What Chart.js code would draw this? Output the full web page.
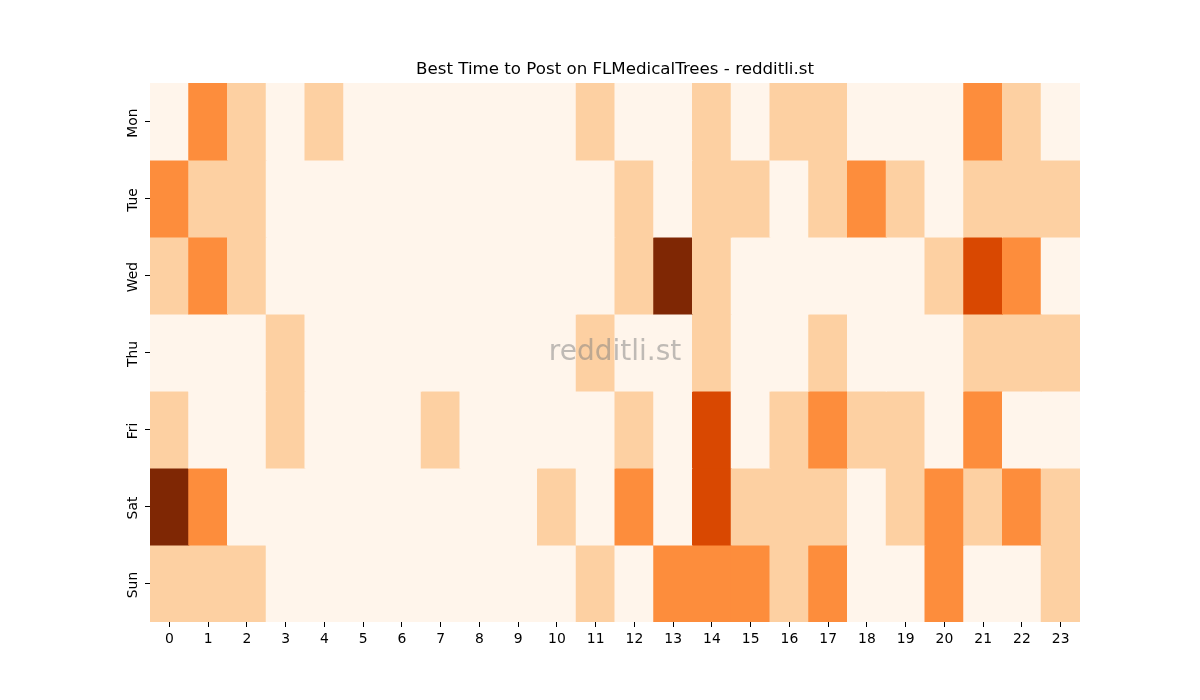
<!DOCTYPE html>
<html>
<head>
<meta charset="utf-8">
<script src="https://cdn.jsdelivr.net/npm/chart.js@4.4.0/dist/chart.umd.min.js"></script>
<style>
  html, body { margin: 0; padding: 0; background: #ffffff; }
  #wrap { width: 1200px; height: 700px; }
</style>
</head>
<body>
<div id="wrap"><canvas id="heat"></canvas></div>
<script>
// DATA
const hours = ["0","1","2","3","4","5","6","7","8","9","10","11","12","13","14","15","16","17","18","19","20","21","22","23"];
const days = ["Mon", "Tue", "Wed", "Thu", "Fri", "Sat", "Sun"];

const mon = [0,2,1,0,1,0,0,0,0,0,0,1,0,0,1,0,1,1,0,0,0,2,1,0];
const tue = [2,1,1,0,0,0,0,0,0,0,0,0,1,0,1,1,0,1,2,1,0,1,1,1];
const wed = [1,2,1,0,0,0,0,0,0,0,0,0,1,4,1,0,0,0,0,0,1,3,2,0];
const thu = [0,0,0,1,0,0,0,0,0,0,0,1,0,0,1,0,0,1,0,0,0,1,1,1];
const fri = [1,0,0,1,0,0,0,1,0,0,0,0,1,0,3,0,1,2,1,1,0,2,0,0];
const sat = [4,2,0,0,0,0,0,0,0,0,1,0,2,0,3,1,1,1,0,1,2,1,2,1];
const sun = [1,1,1,0,0,0,0,0,0,0,0,1,0,2,2,2,1,2,0,0,2,0,0,1];

const rows = [mon, tue, wed, thu, fri, sat, sun];
const maxValue = 4;
const titleText = "Best Time to Post on FLMedicalTrees - redditli.st";

// ORANGES COLOUR MAP
const oranges = ["#fff5eb", "#fdd0a2", "#fd8d3c", "#d94801", "#7f2704"];
function colorFor(v) {
  return oranges[Math.round(v / maxValue * (oranges.length - 1))];
}

const tickFont = { family: "DejaVu Sans", size: 13.9 };

// TITLE, ROTATED DAY LABELS AND WATERMARK
const decorations = {
  id: "decorations",
  afterDatasetsDraw(chart) {
    const a = chart.chartArea;
    const ctx = chart.ctx;
    const cx = (a.left + a.right) / 2;
    ctx.save();

    ctx.font = "28px 'DejaVu Sans'";
    ctx.fillStyle = "rgba(128,128,128,0.5)";
    ctx.textAlign = "center";
    ctx.textBaseline = "middle";
    ctx.fillText("redditli.st", cx, (a.top + a.bottom) / 2);

    ctx.fillStyle = "#000000";
    ctx.font = "16.67px 'DejaVu Sans'";
    ctx.textBaseline = "middle";
    ctx.fillText(titleText, cx, a.top - 13);

    const yScale = chart.scales.y;
    ctx.font = "13.9px 'DejaVu Sans'";
    days.forEach((d, i) => {
      const y = yScale.getPixelForValue(i + 0.5) + 1.5;
      ctx.save();
      ctx.translate(a.left - 17, y);
      ctx.rotate(-Math.PI / 2);
      ctx.fillText(d, 0, 0);
      ctx.restore();
    });
    ctx.restore();
  }
};

// ONE FLOATING-BAR DATASET PER DAY
const datasets = rows.map((vals, d) => ({
  label: days[d],
  data: vals.map(() => [d, d + 1]),
  backgroundColor: vals.map(colorFor),
  borderWidth: 0,
  inflateAmount: 0.5,
  barPercentage: 1,
  categoryPercentage: 1,
  grouped: false
}));

new Chart(document.getElementById("heat"), {
  type: "bar",
  data: { labels: hours, datasets: datasets },
  plugins: [decorations],
  options: {
    responsive: true,
    maintainAspectRatio: false,
    animation: false,
    layout: { padding: { top: 83, right: 120, bottom: 0, left: 0 } },
    plugins: {
      legend: { display: false },
      tooltip: { enabled: false },
      title: { display: false }
    },
    scales: {
      x: {
        grid: { display: true, drawOnChartArea: false, drawTicks: true, tickLength: 5, offset: false, color: "#000000" },
        border: { display: false },
        ticks: { color: "#000000", font: tickFont, padding: 4, maxRotation: 0, minRotation: 0 },
        afterFit(s) { s.height = 78; }
      },
      y: {
        type: "linear",
        min: 0,
        max: 7,
        reverse: true,
        grid: { display: true, drawOnChartArea: false, drawTicks: true, tickLength: 5, color: "#000000" },
        border: { display: false },
        afterBuildTicks(s) { s.ticks = days.map((_, i) => ({ value: i + 0.5 })); },
        ticks: { callback: () => "" },
        afterFit(s) { s.width = 150; }
      }
    }
  }
});
</script>
</body>
</html>
